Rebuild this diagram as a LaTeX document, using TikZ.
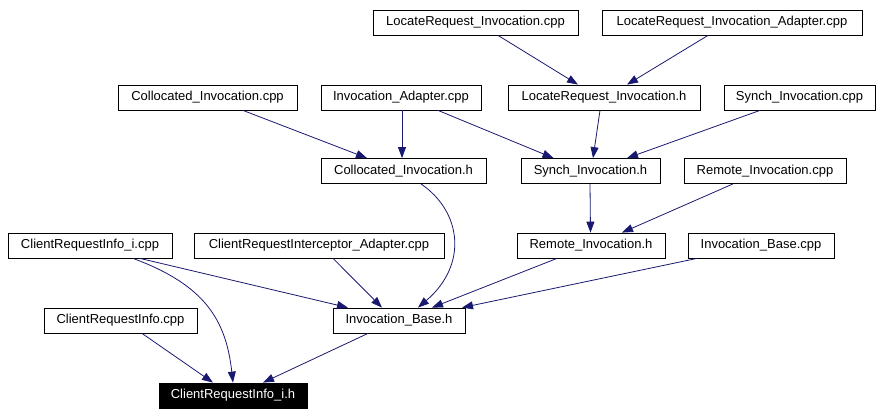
\documentclass[tikz,border=0pt]{standalone}
\usepackage{fontspec}
\setmainfont{Liberation Sans}
\usetikzlibrary{arrows.meta}
\definecolor{edgeblue}{RGB}{25,25,112}
\tikzset{
  box/.style={draw=black, fill=white, rectangle, minimum height=25pt, inner sep=0pt, line width=0.8pt, font=\fontsize{13}{15}\selectfont},
  focus/.style={box, fill=black, text=white},
  dep/.style={draw=edgeblue, line width=0.8pt, -{Triangle[length=11pt,width=8pt]}}
}
\begin{document}
\begin{tikzpicture}[x=1pt,y=-1pt]
\useasboundingbox (0,0) rectangle (883,415);
% row 1
\node[box, minimum width=205pt] (lric) at (475.5,22.5) {LocateRequest\_Invocation.cpp};
\node[box, minimum width=260pt] (lriac) at (732,22.5) {LocateRequest\_Invocation\_Adapter.cpp};
% row 2
\node[box, minimum width=179pt] (colc) at (207.5,97.5) {Collocated\_Invocation.cpp};
\node[box, minimum width=160pt] (iac) at (401,97.5) {Invocation\_Adapter.cpp};
\node[box, minimum width=192pt] (lrih) at (604,97.5) {LocateRequest\_Invocation.h};
\node[box, minimum width=151pt] (sic) at (799.5,97.5) {Synch\_Invocation.cpp};
% row 3
\node[box, minimum width=165pt] (colh) at (403.5,171) {Collocated\_Invocation.h};
\node[box, minimum width=139pt] (sih) at (590.5,171) {Synch\_Invocation.h};
\node[box, minimum width=162pt] (ric) at (765,171) {Remote\_Invocation.cpp};
% row 4
\node[box, minimum width=164pt] (cric) at (90,245.5) {ClientRequestInfo\_i.cpp};
\node[box, minimum width=250pt] (crica) at (319,245.5) {ClientRequestInterceptor\_Adapter.cpp};
\node[box, minimum width=148pt] (rih) at (591,245.5) {Remote\_Invocation.h};
\node[box, minimum width=146pt] (ibc) at (761,245.5) {Invocation\_Base.cpp};
% row 5
\node[box, minimum width=153pt] (crinfo) at (120.5,320.5) {ClientRequestInfo.cpp};
\node[box, minimum width=132pt] (ibh) at (399,320.5) {Invocation\_Base.h};
% row 6
\node[focus, minimum width=148pt] (crih) at (233,395.5) {ClientRequestInfo\_i.h};
% edges
\draw[dep] ([xshift=22.5pt]lric.south) -- ([xshift=-26pt]lrih.north);
\draw[dep] ([xshift=-24pt]lriac.south) -- ([xshift=23pt]lrih.north);
\draw[dep] ([xshift=35.5pt]colc.south) -- ([xshift=-36.5pt]colh.north);
\draw[dep] ([xshift=1pt]iac.south) -- ([xshift=-1.5pt]colh.north);
\draw[dep] ([xshift=37pt]iac.south) -- ([xshift=-37pt]sih.north);
\draw[dep] ([xshift=-4pt]lrih.south) -- ([xshift=2.5pt]sih.north);
\draw[dep] ([xshift=-39.5pt]sic.south) -- ([xshift=36.5pt]sih.north);
\draw[dep] ([xshift=-0.5pt]sih.south) -- ([xshift=-0.5pt]rih.north);
\draw[dep] ([xshift=-32pt]ric.south) -- ([xshift=31pt]rih.north);
\draw[dep] ([xshift=17.5pt]colh.south) .. controls (462,212) and (468,265) .. ([xshift=19pt]ibh.north);
\draw[dep] ([xshift=50pt]cric.south) -- ([xshift=-51pt]ibh.north);
\draw[dep] ([xshift=43pt]cric.south) .. controls (205,285) and (226,320) .. ([xshift=0pt]crih.north);
\draw[dep] ([xshift=14pt]crica.south) -- ([xshift=-17pt]ibh.north);
\draw[dep] ([xshift=-34pt]rih.south) -- ([xshift=33pt]ibh.north);
\draw[dep] ([xshift=-64pt]ibc.south) -- ([xshift=63pt]ibh.north);
\draw[dep] ([xshift=21.5pt]crinfo.south) -- ([xshift=-20pt]crih.north);
\draw[dep] ([xshift=-31pt]ibh.south) -- ([xshift=30pt]crih.north);
\end{tikzpicture}
\end{document}
